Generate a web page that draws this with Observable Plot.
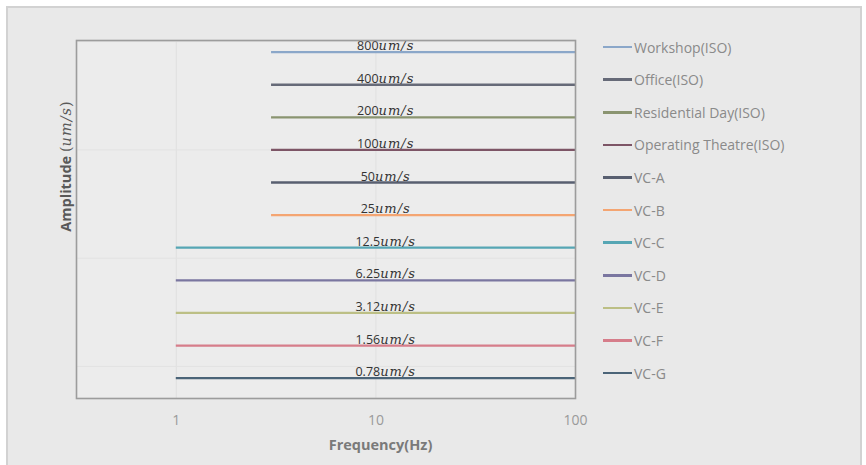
<!DOCTYPE html>
<html><head><meta charset="utf-8">
<script src="https://cdn.jsdelivr.net/npm/d3@7"></script>
<script src="https://cdn.jsdelivr.net/npm/@observablehq/plot@0.6"></script>
<style>
html,body{margin:0;padding:0;background:#fff;}
#wrap{position:relative;width:866px;height:465px;overflow:hidden;}
#bg{position:absolute;left:6px;top:6px;width:852px;height:470px;background:#e9e9e9;border:2px solid #d2d2d2;}
#chart{position:absolute;left:0;top:0;}
#legend{position:absolute;left:603px;top:0;font-family:"Open Sans",sans-serif;font-size:14px;color:#8a8a8a;}
.row{position:absolute;left:0;display:flex;align-items:center;height:20px;white-space:nowrap;}
.sw{display:inline-block;width:29px;height:2.5px;margin-right:2px;}
</style></head><body>
<div id="wrap"><div id="bg"></div><div id="chart"></div><div id="legend"></div></div>
<script>
const series = ["Workshop(ISO)", "Office(ISO)", "Residential Day(ISO)", "Operating Theatre(ISO)", "VC-A", "VC-B", "VC-C", "VC-D", "VC-E", "VC-F", "VC-G"];
const amplitudes = [800, 400, 200, 100, 50, 25, 12.5, 6.25, 3.12, 1.56, 0.78];
const ampLabels = ["800", "400", "200", "100", "50", "25", "12.5", "6.25", "3.12", "1.56", "0.78"];
const startFreq = [3, 3, 3, 3, 3, 3, 1, 1, 1, 1, 1];
const endFreq = [100, 100, 100, 100, 100, 100, 100, 100, 100, 100, 100];
const colors = ["#8ba7c9", "#666a78", "#8a9470", "#7d5566", "#585f70", "#f4a572", "#56a6b4", "#7a76a0", "#bcbf85", "#d67d8a", "#4b6478"];
const xTicks = [1, 10, 100];
const yGrid = [1, 10, 100, 1000];
const xGrid = [1, 10];
const unit = "um/s";

const rows = series.map((name, i) => ({name, amp: amplitudes[i], label: ampLabels[i], x1: startFreq[i], x2: endFreq[i]}));

const plot = Plot.plot({
  width: 866, height: 465,
  marginLeft: 76, marginRight: 291, marginTop: 40, marginBottom: 67,
  style: {background: "transparent", color: "#9a9a9a", fontFamily: "Open Sans", fontSize: "14px"},
  x: {type: "log", domain: [0.3162, 100], ticks: xTicks, tickFormat: d => String(d), tickSize: 0, tickPadding: 17, label: null},
  y: {type: "log", domain: [0.506, 1025], axis: null},
  color: {domain: series, range: colors},
  marks: [
    Plot.frame({fill: "#ececec", stroke: "none"}),
    Plot.ruleX(xGrid, {stroke: "#e0e0e0", strokeWidth: 1}),
    Plot.ruleY(yGrid, {stroke: "#e2e2e2", strokeWidth: 1}),
    Plot.ruleY(rows, {y: "amp", x1: "x1", x2: "x2", stroke: "name", strokeWidth: 2.3}),
    Plot.text(rows, {x: () => 11.2, y: "amp", text: d => d.label + unit, textAnchor: "middle", lineAnchor: "bottom", dy: -2, fill: "#333333", fontSize: 12.5}),
    Plot.frame({stroke: "#9c9c9c", strokeWidth: 1.6}),
    Plot.text(["Amplitude (" + unit + ")"], {frameAnchor: "left", rotate: -90, dx: -10, dy: -53, fill: "#595959", fontSize: 14.5, fontWeight: "bold", lineAnchor: "middle", textAnchor: "middle"}),
    Plot.text(["Frequency(Hz)"], {frameAnchor: "bottom", dx: 54.5, dy: 47, fill: "#7a7a7a", fontSize: 14.5, fontWeight: "bold", lineAnchor: "middle", textAnchor: "middle"})
  ]
});
document.getElementById("chart").appendChild(plot);

// style the unit part of labels as math italic
const NS = "http://www.w3.org/2000/svg";
plot.querySelectorAll("text").forEach(t => {
  const s = t.textContent;
  let m = s.match(/^([\d.]+)(um\/s)$/);
  if (m) {
    t.textContent = "";
    const a = document.createElementNS(NS, "tspan");
    a.textContent = m[1];
    a.setAttribute("font-family", "Open Sans");
    const b = document.createElementNS(NS, "tspan");
    b.textContent = m[2];
    b.setAttribute("font-family", "DejaVu Serif");
    b.setAttribute("font-style", "italic");
    b.setAttribute("font-size", "13");
    b.setAttribute("letter-spacing", "1");
    t.appendChild(a); t.appendChild(b);
    return;
  }
  m = s.match(/^(Amplitude) \((um\/s)\)$/);
  if (m) {
    t.textContent = "";
    const parts = [[m[1] + " ", {"font-family": "Open Sans", "font-weight": "bold"}],
                   ["(", {"font-family": "DejaVu Serif", "font-weight": "normal"}],
                   [m[2], {"font-family": "DejaVu Serif", "font-style": "italic", "font-weight": "normal", "letter-spacing": "1"}],
                   [")", {"font-family": "DejaVu Serif", "font-weight": "normal"}]];
    parts.forEach(([txt, attrs]) => {
      const sp = document.createElementNS(NS, "tspan");
      sp.textContent = txt;
      for (const k in attrs) sp.setAttribute(k, attrs[k]);
      t.appendChild(sp);
    });
  }
});

// legend
const yScale = plot.scale("y");
const legend = document.getElementById("legend");
rows.forEach((r, i) => {
  const cy = yScale.apply(r.amp) - 4.5;
  const row = document.createElement("div");
  row.className = "row";
  row.style.top = (cy - 10) + "px";
  const sw = document.createElement("span");
  sw.className = "sw";
  sw.style.background = colors[i];
  const tx = document.createElement("span");
  tx.textContent = r.name;
  row.appendChild(sw); row.appendChild(tx);
  legend.appendChild(row);
});
</script>
</body></html>
